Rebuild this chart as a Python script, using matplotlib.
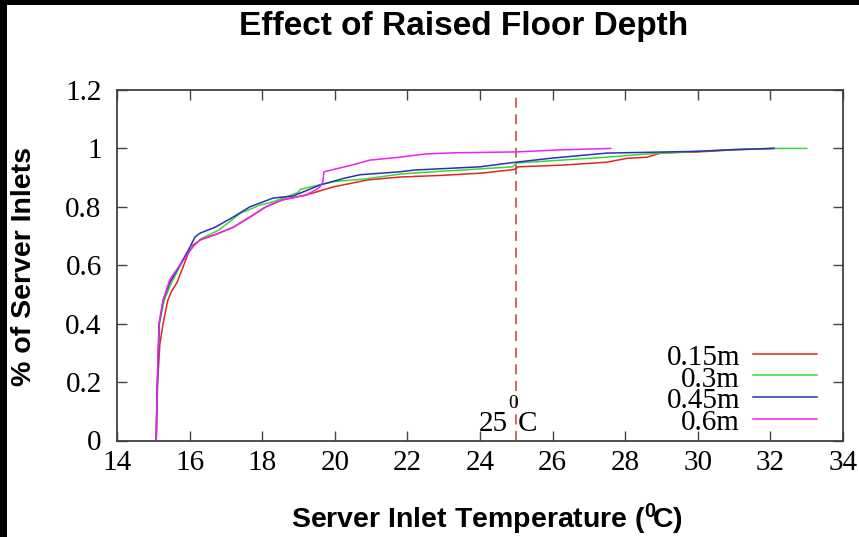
import matplotlib
matplotlib.use("Agg")
import matplotlib.pyplot as plt
from matplotlib.patches import Rectangle
from matplotlib.lines import Line2D

# Cumulative fraction of server inlets vs. inlet temperature, per raised-floor depth
temp_015 = [15.08, 15.12, 15.18, 15.27, 15.4, 15.5, 15.65, 15.82, 15.96, 16.1, 16.3, 16.75,
            17.2, 17.66, 18.1, 18.56, 19.2, 19.6, 19.95, 20.9, 21.8, 23.0, 24.1, 24.95,
            25.05, 26.3, 27.5, 28.05, 28.6, 29.0, 30.0, 31.0, 32.1]
frac_015 = [0.0, 0.2, 0.33, 0.40, 0.48, 0.51, 0.54, 0.594, 0.64, 0.67, 0.687, 0.707,
            0.73, 0.765, 0.80, 0.824, 0.84, 0.855, 0.868, 0.892, 0.902, 0.908, 0.916, 0.928,
            0.937, 0.943, 0.953, 0.966, 0.97, 0.985, 0.988, 0.995, 1.0]

temp_030 = [15.08, 15.1, 15.14, 15.17, 15.3, 15.5, 15.75, 15.93, 16.3, 16.8, 17.4, 17.94,
            18.3, 19.0, 19.05, 19.95, 20.8, 21.8, 22.2, 23.5, 24.9, 25.0, 26.0, 27.5, 28.5,
            30.0, 31.0, 32.0, 33.0]
frac_030 = [0.0, 0.15, 0.3, 0.40, 0.48, 0.54, 0.6, 0.642, 0.69, 0.72, 0.778, 0.806,
            0.817, 0.85, 0.86, 0.886, 0.895, 0.912, 0.916, 0.926, 0.937, 0.95, 0.958, 0.97, 0.98,
            0.99, 0.996, 1.0, 1.0]

temp_045 = [15.08, 15.1, 15.14, 15.16, 15.27, 15.45, 15.73, 15.96, 16.15, 16.29, 16.7, 17.2,
            17.66, 18.3, 18.85, 19.6, 20.3, 20.7, 21.8, 22.2, 24.0, 24.8, 25.0, 26.0, 27.5,
            30.0, 31.0, 32.1]
frac_045 = [0.0, 0.15, 0.3, 0.40, 0.48, 0.54, 0.60, 0.65, 0.697, 0.71, 0.73, 0.765,
            0.80, 0.83, 0.837, 0.875, 0.899, 0.91, 0.92, 0.926, 0.937, 0.95, 0.953, 0.967, 0.984,
            0.99, 0.996, 1.0]

temp_060 = [15.08, 15.1, 15.13, 15.16, 15.27, 15.45, 15.73, 15.96, 16.1, 16.29, 16.75, 17.2,
            17.66, 18.1, 18.56, 19.2, 19.5, 19.6, 19.67, 19.7, 20.47, 20.97, 21.8, 22.5, 23.3,
            25.0, 26.2, 27.6]
frac_060 = [0.0, 0.15, 0.3, 0.40, 0.48, 0.55, 0.6, 0.64, 0.665, 0.687, 0.707, 0.73,
            0.765, 0.80, 0.824, 0.84, 0.86, 0.87, 0.885, 0.92, 0.943, 0.96, 0.97, 0.981, 0.985,
            0.988, 0.995, 1.0]

series_labels = ["0.15m", "0.3m", "0.45m", "0.6m"]
series_colors = ["#e3261f", "#3ad63a", "#2832b4", "#ec24ec"]

threshold_temp = 25
x_ticks = list(range(14, 35, 2))
y_ticks = [0, 0.2, 0.4, 0.6, 0.8, 1, 1.2]
y_tick_labels = ["0", "0.2", "0.4", "0.6", "0.8", "1", "1.2"]

plt.rcParams["mathtext.fontset"] = "custom"
plt.rcParams["mathtext.rm"] = "Liberation Sans:bold"
plt.rcParams["mathtext.it"] = "Liberation Sans:bold"
plt.rcParams["mathtext.bf"] = "Liberation Sans:bold"
plt.rcParams["mathtext.default"] = "rm"

fig = plt.figure(figsize=(8.59, 5.37), dpi=100)
ax = fig.add_axes([117 / 859, 1 - 440.5 / 537, 726 / 859, 350.5 / 537])

xs = [temp_015, temp_030, temp_045, temp_060]
ys = [frac_015, frac_030, frac_045, frac_060]
for x, y, c in zip(xs, ys, series_colors):
    ax.plot(x, y, color=c, lw=1.1)

ax.axvline(threshold_temp, color="#c4504c", lw=1.2, ls=(0, (6, 4)), zorder=1)

ax.set_xlim(14, 34)
ax.set_ylim(0, 1.2)
ax.set_xticks(x_ticks)
ax.set_yticks(y_ticks)
ax.set_yticklabels(y_tick_labels)
ax.tick_params(direction="in", length=7, width=1.0, color="#444444",
               top=True, right=True, labelsize=21)
ax.tick_params(axis="x", pad=7)
ax.tick_params(axis="y", pad=11)
for lab in ax.get_xticklabels() + ax.get_yticklabels():
    lab.set_fontfamily("Liberation Serif")
for sp in ax.spines.values():
    sp.set_color("#404040")
    sp.set_linewidth(1.3)

# threshold annotation "25⁰C"
serif = "Liberation Serif"
ax.annotate("25", (threshold_temp, 0.034), xytext=(-6.0, 0), textcoords="offset points",
            ha="right", va="baseline", fontsize=21, family=serif)
ax.annotate("0", (threshold_temp, 0.111), xytext=(-2.6, 0), textcoords="offset points",
            ha="center", va="baseline", fontsize=14, family=serif)
ax.annotate("C", (threshold_temp, 0.034), xytext=(1.0, 0), textcoords="offset points",
            ha="left", va="baseline", fontsize=21, family=serif)

# key, right-aligned labels followed by line samples
text_base = [0.2154, 0.1535, 0.0918, 0.030]
line_y = [0.248, 0.186, 0.124, 0.062]
for lab, c, tb, ly in zip(series_labels, series_colors, text_base, line_y):
    ax.text(0.858, tb, lab, transform=ax.transAxes, ha="right", va="baseline",
            fontsize=21, family=serif)
    ax.add_line(Line2D([0.876, 0.964], [ly, ly], transform=ax.transAxes, color=c, lw=1.1))

fig.text(463.5 / 859, 1 - 26 / 537, "Effect of Raised Floor Depth", ha="center", va="center",
         fontsize=24, fontweight="bold", family="Liberation Sans")
fig.text(486.5 / 859, 1 - 519 / 537, r"Server Inlet Temperature ($^{0}\!$C)", ha="center",
         va="center", fontsize=20.5, fontweight="bold", family="Liberation Sans")
fig.text(24 / 859, 1 - 266 / 537, "% of Server Inlets", ha="center", va="center",
         rotation=90, fontsize=20.5, fontweight="bold", family="Liberation Sans")

# dark bands along the left and top edges
fig.patches.append(Rectangle((0, 0), 7 / 859, 1, transform=fig.transFigure,
                             facecolor="black", edgecolor="none", zorder=10))
fig.patches.append(Rectangle((0, 1 - 5 / 537), 1, 5 / 537, transform=fig.transFigure,
                             facecolor="black", edgecolor="none", zorder=10))

fig.savefig("out.png", dpi=100)
